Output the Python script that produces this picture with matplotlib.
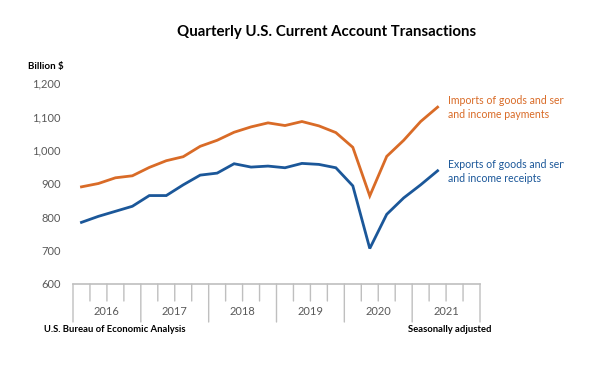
"""Quarterly U.S. current account transactions, line chart."""

import matplotlib

matplotlib.use("Agg")

import matplotlib.pyplot as plt
from matplotlib.transforms import Bbox, TransformedBbox
import numpy as np

YEARS = ["2016", "2017", "2018", "2019", "2020", "2021"]

# 2016Q1 .. 2021Q2, billions of dollars
IMPORTS = [890, 900, 917, 923, 948, 968, 980, 1011, 1029, 1053, 1069, 1081,
           1073, 1085, 1072, 1052, 1008, 863, 981, 1029, 1085, 1128]
EXPORTS = [784, 802, 817, 832, 864, 864, 896, 925, 931, 959, 949, 952,
           947, 960, 957, 947, 893, 706, 808, 857, 896, 938]

Y_TICKS = [600, 700, 800, 900, 1000, 1100, 1200]

ORANGE = "#D96B27"
BLUE = "#1B5799"
GRAY = "#BFBFBF"
TICK_TEXT = "#595959"

plt.rcParams["font.family"] = ["Lato", "DejaVu Sans"]

W, H = 592, 373
fig = plt.figure(figsize=(W / 100, H / 100), dpi=100)
# axes in pixel terms: x 73..480, y 83..284 (from top)
ax = fig.add_axes([73 / W, 1 - 284 / H, (480 - 73) / W, (284 - 83) / H])

x = np.arange(len(IMPORTS)) + 0.5
ax.plot(x, IMPORTS, color=ORANGE, lw=2.0, solid_joinstyle="miter")
ax.plot(x, EXPORTS, color=BLUE, lw=2.0, solid_joinstyle="miter")

n_quarters = 4 * len(YEARS)
ax.set_xlim(0, n_quarters)
ax.set_ylim(600, 1200)
ax.set_yticks(Y_TICKS, [f"{v:,}" for v in Y_TICKS])
ax.tick_params(axis="y", length=0, labelsize=8, labelcolor=TICK_TEXT, pad=9)
ax.set_xticks([])
for side in ["top", "right", "left"]:
    ax.spines[side].set_visible(False)
ax.spines["bottom"].set_color(GRAY)
ax.spines["bottom"].set_linewidth(1.2)

# quarter ticks and year separators below the axis
for q in range(n_quarters + 1):
    depth = 38 if q % 4 == 0 else 17
    ax.annotate("", xy=(q, 600), xycoords="data", xytext=(0, -depth * 0.72),
                textcoords="offset points",
                arrowprops=dict(arrowstyle="-", color=GRAY, lw=1.0,
                                shrinkA=0, shrinkB=0),
                annotation_clip=False)
for i, year in enumerate(YEARS):
    ax.annotate(year, xy=(4 * i + 2, 600), xytext=(0, -20),
                textcoords="offset points", ha="center", va="center",
                fontsize=8, color=TICK_TEXT, annotation_clip=False)

# series labels, cut off at the right edge like the original
clip = TransformedBbox(Bbox([[0, 0], [564 / W, 1]]), fig.transFigure)
for text, y, color in [
    ("Imports of goods and services\nand income payments", 101, ORANGE),
    ("Exports of goods and services\nand income receipts", 165, BLUE),
]:
    t = fig.text(448 / W, 1 - (y - 6) / H, text, color=color, fontsize=7.6,
                 ha="left", va="top", linespacing=1.3)
    t.set_clip_box(clip)
    t.set_clip_on(True)

fig.text(327 / W, 1 - 32 / H, "Quarterly U.S. Current Account Transactions",
         ha="center", va="center", fontsize=10.8, fontweight="bold")
fig.text(28 / W, 1 - 66 / H, "Billion $", ha="left", va="center",
         fontsize=7, fontweight="bold")
fig.text(44 / W, 1 - 330 / H, "U.S. Bureau of Economic Analysis", ha="left",
         va="center", fontsize=6.8, fontweight="bold")
fig.text(492 / W, 1 - 330 / H, "Seasonally adjusted", ha="right",
         va="center", fontsize=6.8, fontweight="bold")

fig.savefig("out.png", dpi=100, facecolor="white")
